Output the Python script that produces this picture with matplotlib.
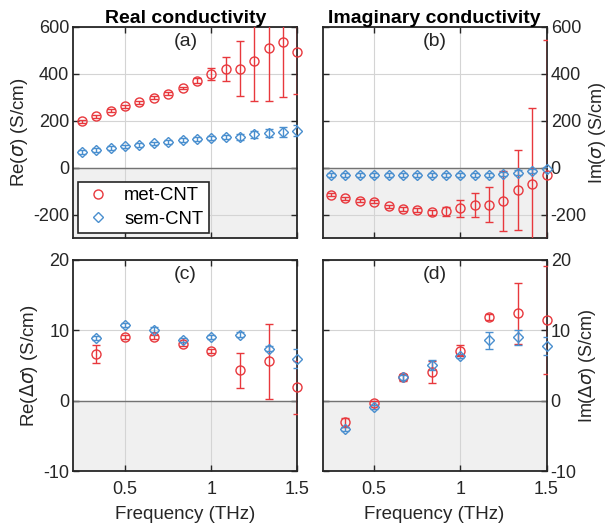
import matplotlib
matplotlib.use("Agg")
import matplotlib.pyplot as plt
from matplotlib.lines import Line2D
import numpy as np

plt.rcParams['font.family'] = ['Liberation Sans', 'DejaVu Sans']
plt.rcParams['axes.unicode_minus'] = False
plt.rcParams['mathtext.fontset'] = 'dejavusans'

RED = '#e8383d'
BLUE = '#4a8fcf'
DARK = '#262626'

# frequencies (THz)
freq_top = [0.25, 0.333, 0.417, 0.5, 0.583, 0.667, 0.75, 0.833,
            0.917, 1.0, 1.083, 1.167, 1.25, 1.333, 1.417, 1.5]
freq_bot = [0.333, 0.5, 0.667, 0.833, 1.0, 1.167, 1.333, 1.5]

# (a) real conductivity
re_met = [198, 219, 243, 261, 278, 297, 315, 339, 370, 400, 420, 421, 455, 508, 534, 491]
re_met_err = [6, 6, 6, 6, 6, 6, 6, 6, 10, 26, 52, 117, 173, 226, 235, 177]
re_sem = [68, 75, 82, 90, 96, 103, 110, 117, 123, 127, 130, 131, 141, 148, 151, 158]
re_sem_err = [8, 8, 8, 8, 8, 8, 8, 8, 8, 8, 10, 12, 14, 18, 20, 24]

# (b) imaginary conductivity
im_met = [-115, -131, -141, -145, -165, -176, -182, -190, -185, -174, -160, -158, -144, -95, -71, -32]
im_met_err = [6, 6, 6, 6, 6, 8, 8, 10, 19, 38, 51, 75, 128, 172, 325, 577]
im_sem = [-30, -30, -30, -30, -30, -30, -30, -30, -30, -30, -30, -30, -28, -22, -15, -8]
im_sem_err = [8, 8, 8, 8, 8, 8, 8, 8, 8, 8, 8, 8, 8, 10, 10, 12]

# (c) real delta conductivity
dre_met = [6.6, 9.1, 9.1, 8.0, 7.1, 4.3, 5.6, 1.9]
dre_met_err = [1.3, 0.3, 0.3, 0.3, 0.3, 2.5, 5.3, 3.8]
dre_sem = [8.9, 10.7, 10.1, 8.6, 9.05, 9.4, 7.4, 5.95]
dre_sem_err = [0.3, 0.3, 0.3, 0.3, 0.3, 0.3, 0.3, 1.35]

# (d) imaginary delta conductivity
dim_met = [-3.1, -0.3, 3.3, 4.1, 7.1, 11.9, 12.4, 11.5]
dim_met_err = [0.7, 0.3, 0.5, 1.6, 0.8, 0.4, 4.3, 7.7]
dim_sem = [-4.0, -0.85, 3.3, 5.1, 6.3, 8.6, 9.0, 7.8]
dim_sem_err = [0.3, 0.3, 0.3, 0.7, 0.3, 1.2, 1.1, 1.25]

MS = {'o': 6.5, 'D': 5.2}


def draw(ax, x, y, err, color, marker):
    line, caps, bars = ax.errorbar(x, y, yerr=err, fmt=marker, mfc='none', mec=color,
                                   ms=MS[marker], mew=1.0,
                                   ecolor=color, elinewidth=1.0, capsize=3,
                                   capthick=1.0, zorder=3)
    line.set_clip_on(False)


def style(ax, ylim, yticks, letter, right=False, xlabels=False):
    ax.set_xlim(0.2, 1.5)
    ax.set_ylim(*ylim)
    ax.axhspan(ylim[0], 0, color='#f0f0f0', zorder=0, lw=0)
    ax.axhline(0, color='0.45', lw=1.0, zorder=1)
    ax.set_axisbelow(True)
    ax.grid(True, color='#d4d4d4', lw=0.8)
    ax.set_xticks([0.5, 1.0, 1.5])
    ax.set_yticks(yticks)
    if xlabels:
        ax.set_xticklabels(['0.5', '1', '1.5'])
        ax.set_xlabel('Frequency (THz)', fontsize=13.5, color=DARK, labelpad=6)
    else:
        ax.set_xticklabels([])
    ax.tick_params(direction='in', length=4, width=1, top=True, right=True,
                   left=True, labelsize=13, colors=DARK, pad=3)
    ax.tick_params(axis='x', pad=7)
    if right:
        ax.yaxis.tick_right()
        ax.yaxis.set_label_position('right')
        ax.tick_params(left=True, labelleft=False, labelright=True)
    for s in ax.spines.values():
        s.set_color(DARK)
        s.set_linewidth(1.3)
    ax.text(0.5, 0.97, letter, transform=ax.transAxes, ha='center', va='top',
            fontsize=14, color=DARK)


fig = plt.figure(figsize=(6.12, 5.29), dpi=100)
axA = fig.add_axes([0.120, 0.550, 0.366, 0.3995])
axB = fig.add_axes([0.527, 0.550, 0.366, 0.3995])
axC = fig.add_axes([0.120, 0.1096, 0.366, 0.399])
axD = fig.add_axes([0.527, 0.1096, 0.366, 0.399])

draw(axA, freq_top, re_met, re_met_err, RED, 'o')
draw(axA, freq_top, re_sem, re_sem_err, BLUE, 'D')
style(axA, (-300, 600), [-200, 0, 200, 400, 600], '(a)')
axA.set_ylabel(r'Re($\sigma$) (S/cm)', fontsize=13.5, color=DARK, labelpad=2)
axA.set_title('Real conductivity', fontsize=14, fontweight='bold', pad=2)
handles = [Line2D([], [], ls='none', marker='o', mfc='none', mec=RED, ms=MS['o'], mew=1.0),
           Line2D([], [], ls='none', marker='D', mfc='none', mec=BLUE, ms=MS['D'], mew=1.0)]
leg = axA.legend(handles, ['met-CNT', 'sem-CNT'], loc='lower left', fontsize=13.3,
                 fancybox=False, framealpha=1, edgecolor=DARK, handletextpad=0.6,
                 borderpad=0.3, labelspacing=0.35, handlelength=1.6,
                 borderaxespad=0.25)
leg.get_frame().set_linewidth(1.2)

draw(axB, freq_top, im_met, im_met_err, RED, 'o')
draw(axB, freq_top, im_sem, im_sem_err, BLUE, 'D')
style(axB, (-300, 600), [-200, 0, 200, 400, 600], '(b)', right=True)
axB.set_ylabel(r'Im($\sigma$) (S/cm)', fontsize=13, color=DARK, labelpad=0)
axB.set_title('Imaginary conductivity', fontsize=14, fontweight='bold', pad=2)

draw(axC, freq_bot, dre_met, dre_met_err, RED, 'o')
draw(axC, freq_bot, dre_sem, dre_sem_err, BLUE, 'D')
style(axC, (-10, 20), [-10, 0, 10, 20], '(c)', xlabels=True)
axC.set_ylabel(r'Re($\Delta\sigma$) (S/cm)', fontsize=13.5, color=DARK, labelpad=2)

draw(axD, freq_bot, dim_met, dim_met_err, RED, 'o')
draw(axD, freq_bot, dim_sem, dim_sem_err, BLUE, 'D')
style(axD, (-10, 20), [-10, 0, 10, 20], '(d)', right=True, xlabels=True)
axD.set_ylabel(r'Im($\Delta\sigma$) (S/cm)', fontsize=13, color=DARK, labelpad=0)

fig.savefig('out.png', dpi=100)
